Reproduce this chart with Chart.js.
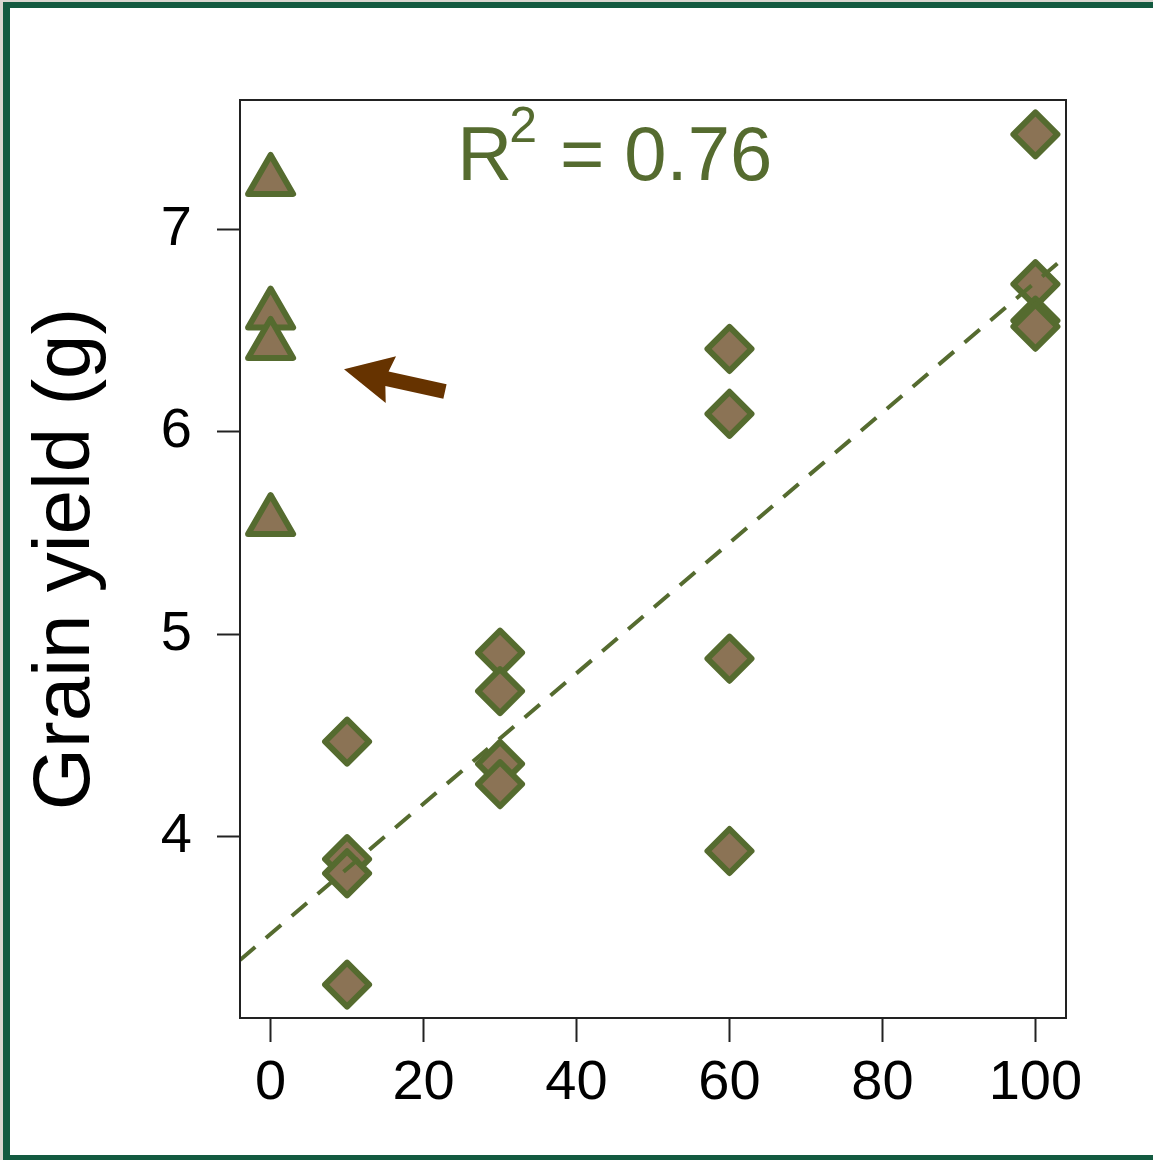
<!DOCTYPE html>
<html>
<head>
<meta charset="utf-8">
<script src="https://cdn.jsdelivr.net/npm/chart.js@4/dist/chart.umd.min.js"></script>
<style>
  body { margin: 0; background: #fff; }
  canvas { display: block; }
</style>
</head>
<body>
<canvas id="myChart" width="1153" height="1160"></canvas>
<script>
// valores
const dosisTriangulos = [0, 0, 0, 0];
const rendTriangulos = [7.24, 6.58, 6.43, 5.56];
const dosisRombos = [10, 10, 10, 10, 30, 30, 30, 30, 60, 60, 60, 60, 100, 100, 100, 100];
const rendRombos = [4.47, 3.89, 3.82, 3.27, 4.91, 4.72, 4.36, 4.26, 6.41, 6.09, 4.88, 3.93, 7.47, 6.73, 6.55, 6.52];
const intercepto = 3.52;
const pendiente = 0.0322;
const textoR2 = "0.76";
const xTicks = [0, 20, 40, 60, 80, 100];
const yTicks = [4, 5, 6, 7];
const flechaDesde = [22.8, 6.2];
const flechaHasta = [9.6, 6.31];

const verde = "#556B2F";
const cafe = "#8B7355";
const xMin = -4, xMax = 104;

const lineaX = [xMin, xMax];
const lineaY = lineaX.map(x => intercepto + pendiente * x);

const fondo = {
  id: "fondo",
  beforeDraw(chart) {
    const ctx = chart.ctx;
    ctx.save();
    ctx.fillStyle = "#d9d6d0";
    ctx.fillRect(0, 0, chart.width, chart.height);
    ctx.fillStyle = "#135a40";
    ctx.fillRect(3, 2, chart.width - 3, chart.height - 2);
    ctx.fillStyle = "#fff";
    ctx.fillRect(10, 8, chart.width - 10, chart.height - 13);
    ctx.restore();
  },
  beforeDatasetsDraw(chart) {
    chart.ctx.lineJoin = "round";
  },
  afterDraw(chart) {
    const ctx = chart.ctx;
    const a = chart.chartArea;
    const sx = chart.scales.x, sy = chart.scales.y;
    ctx.save();
    ctx.lineJoin = "miter";
    // caja
    ctx.strokeStyle = "#222";
    ctx.lineWidth = 2;
    ctx.strokeRect(a.left, a.top, a.right - a.left, a.bottom - a.top);

    // R^2
    const big = "76px 'Liberation Sans', Arial, sans-serif";
    const small = "50px 'Liberation Sans', Arial, sans-serif";
    ctx.fillStyle = verde;
    ctx.textBaseline = "alphabetic";
    ctx.textAlign = "left";
    ctx.font = big;
    const wR = ctx.measureText("R").width;
    const wEq = ctx.measureText("=").width;
    const wNum = ctx.measureText(textoR2).width;
    ctx.font = small;
    const w2 = ctx.measureText("2").width;
    const gap = 20;
    const total = wR + w2 + gap + wEq + gap + wNum;
    let tx = sx.getPixelForValue(45) - total / 2;
    const ty = sy.getPixelForValue(7.247);
    ctx.font = big;
    ctx.fillText("R", tx, ty);
    tx += wR;
    ctx.font = small;
    ctx.fillText("2", tx - 3, ty - 38);
    tx += w2 + gap;
    ctx.font = big;
    ctx.fillText("=", tx, ty);
    tx += wEq + gap;
    ctx.fillText(textoR2, tx, ty);

    // flecha
    const x1 = sx.getPixelForValue(flechaDesde[0]), y1 = sy.getPixelForValue(flechaDesde[1]);
    const x2 = sx.getPixelForValue(flechaHasta[0]), y2 = sy.getPixelForValue(flechaHasta[1]);
    const L = Math.hypot(x2 - x1, y2 - y1);
    ctx.translate(x2, y2);
    ctx.rotate(Math.atan2(y2 - y1, x2 - x1));
    ctx.fillStyle = "#663300";
    ctx.beginPath();
    ctx.moveTo(0, 0);
    ctx.lineTo(-48, -24);
    ctx.lineTo(-44, -7.5);
    ctx.lineTo(-L, -7.5);
    ctx.lineTo(-L, 7.5);
    ctx.lineTo(-44, 7.5);
    ctx.lineTo(-48, 24);
    ctx.closePath();
    ctx.fill();
    ctx.restore();
  }
};

const fuenteTicks = { family: "'Liberation Sans', Arial, sans-serif", size: 56 };

new Chart(document.getElementById("myChart"), {
  type: "scatter",
  data: {
    datasets: [
      {
        type: "line",
        data: lineaX.map((x, i) => ({ x: x, y: lineaY[i] })),
        borderColor: verde,
        borderWidth: 4,
        borderDash: [20, 14],
        pointRadius: 0,
        fill: false
      },
      {
        data: dosisRombos.map((x, i) => ({ x: x, y: rendRombos[i] })),
        pointStyle: "rectRot",
        pointRadius: 22,
        pointBackgroundColor: cafe,
        pointBorderColor: verde,
        pointBorderWidth: 6
      },
      {
        data: dosisTriangulos.map((x, i) => ({ x: x, y: rendTriangulos[i] })),
        pointStyle: "triangle",
        pointRadius: 26,
        pointBackgroundColor: cafe,
        pointBorderColor: verde,
        pointBorderWidth: 6
      }
    ]
  },
  options: {
    responsive: false,
    animation: false,
    layout: { padding: { top: 100, right: 87, left: 0, bottom: 0 } },
    plugins: { legend: { display: false }, tooltip: { enabled: false } },
    scales: {
      x: {
        type: "linear",
        min: xMin,
        max: xMax,
        afterBuildTicks: s => { s.ticks = xTicks.map(v => ({ value: v })); },
        afterFit: s => { s.height = 142; },
        border: { display: false },
        grid: { drawOnChartArea: false, tickLength: 24, tickColor: "#222", tickWidth: 2 },
        ticks: { color: "#000", font: fuenteTicks, padding: 8, maxRotation: 0 }
      },
      y: {
        min: 3.105,
        max: 7.64,
        afterBuildTicks: s => { s.ticks = yTicks.map(v => ({ value: v })); },
        afterFit: s => { s.width = 240; },
        border: { display: false },
        grid: { drawOnChartArea: false, tickLength: 23, tickColor: "#222", tickWidth: 2 },
        ticks: { color: "#000", font: fuenteTicks, padding: 25 },
        title: {
          display: true,
          text: "Grain yield (g)",
          color: "#000",
          font: { family: "'Liberation Sans', Arial, sans-serif", size: 80, lineHeight: 1 },
          padding: { top: 27, bottom: 0 }
        }
      }
    }
  },
  plugins: [fondo]
});
</script>
</body>
</html>
